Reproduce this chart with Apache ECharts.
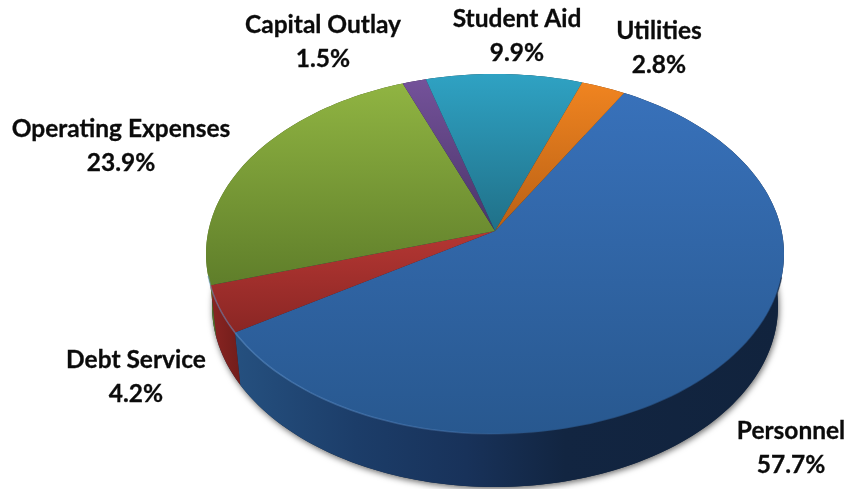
<!DOCTYPE html>
<html>
<head>
<meta charset="utf-8">
<style>html,body{margin:0;padding:0;background:#fff}#chart{width:847px;height:489px}</style>
<script src="https://cdn.jsdelivr.net/npm/echarts@6/dist/echarts.min.js"></script>
</head>
<body>
<div id="chart"></div>
<script>
// Budget shares, clockwise from the Personnel slice
const categories = ['Personnel', 'Debt Service', 'Operating Expenses', 'Capital Outlay', 'Student Aid', 'Utilities'];
const shares = [57.7, 4.2, 23.9, 1.5, 9.9, 2.8];

// Slice colours: top face [far, near], side wall [left, right]
const faceTop = ['#3871ba', '#b53733', '#90b442', '#74529a', '#2fa2c3', '#f08420'];
const faceLow = ['#28588f', '#8a2624', '#5f7e2a', '#4a3468', '#207088', '#b86015'];
const wallLeft = ['#254d80', '#8e2623', '#5c7a28', '#432f5e', '#1d6378', '#a85a16'];
const wallRight = ['#11233f', '#6a1b19', '#3d511a', '#2a1d3c', '#123f4d', '#6e3a0e'];

// Label centres, in slice order
const labelX = [791, 136, 121, 323, 517, 659];
const labelY = [448, 377, 146.5, 42.5, 36, 48];

// Tilted disc: perspective ellipses for top and bottom rims
const topRim = { cx: 495, cy: 254, rx: 289, ry: 180 };
const bottomRim = { cx: 495, cy: 306, rx: 283, ry: 181 };
const persp = -0.128;
const startDeg = 30;

// Projects a disc angle (degrees clockwise from the far point) onto a rim
function project(rim, deg, radius) {
  const a = deg * Math.PI / 180;
  const u = radius * Math.sin(a), v = -radius * Math.cos(a);
  const w = 1 + persp * v;
  return [
    rim.cx + rim.rx * Math.sqrt(1 - persp * persp) * u / w,
    rim.cy + rim.ry * (v + persp) / w
  ];
}

function sliceRange(i) {
  let from = startDeg;
  for (let k = 0; k < i; k++) from += shares[k] * 3.6;
  return [from, from + shares[i] * 3.6];
}

function arc(rim, from, to) {
  const pts = [];
  const n = Math.max(4, Math.ceil((to - from) / 1.5));
  for (let k = 0; k <= n; k++) pts.push(project(rim, from + (to - from) * k / n, 1));
  return pts;
}

function linear(x, y, x2, y2, stops) {
  return { type: 'linear', x, y, x2, y2, global: true,
    colorStops: stops.map(s => ({ offset: s[0], color: s[1] })) };
}

function renderWall(params, api) {
  const i = params.dataIndex;
  const [from, to] = sliceRange(i);
  const upper = arc(topRim, from, to);
  const lower = arc(bottomRim, from, to).reverse();
  const fill = i === 0
    ? linear(235, 0, 785, 0, [[0, '#25507f'], [0.22, '#1c3d69'], [0.42, '#18325a'], [0.6, '#122541'], [1, '#11233d']])
    : linear(205, 0, 250, 0, [[0, wallLeft[i]], [1, wallRight[i]]]);
  const children = [];
  if (i === 0) {
    // soft shadow under the disc
    children.push({
      type: 'polygon', shape: { points: arc(bottomRim, 0, 360) },
      style: { fill: '#1a2a40', shadowColor: 'rgba(0,0,0,0.6)', shadowBlur: 6, shadowOffsetX: 1, shadowOffsetY: 2 }
    });
  }
  children.push({ type: 'polygon', shape: { points: upper.concat(lower) }, style: { fill } });
  return { type: 'group', children };
}

function renderFace(params, api) {
  const i = params.dataIndex;
  const [from, to] = sliceRange(i);
  const rim = arc(topRim, from, to);
  const apex = project(topRim, 0, 0);
  const outline = [apex].concat(rim);
  const ys = outline.map(p => p[1]);
  const children = [{
    type: 'polygon',
    shape: { points: outline },
    // each slice shades from its own far edge to its own near edge
    style: { fill: linear(0, Math.min(...ys), 0, Math.max(...ys), [[0, faceTop[i]], [1, faceLow[i]]]) }
  }];
  // bevel along the near rim: light on the left, dark on the right
  const near = rim.filter(p => p[1] > topRim.cy + 20);
  if (near.length > 1) {
    children.push({
      type: 'polyline',
      shape: { points: near },
      style: {
        fill: null, lineWidth: 1.5,
        stroke: linear(235, 0, 785, 0, [
          [0, 'rgba(110,165,225,0.45)'], [0.4, 'rgba(100,150,215,0.3)'],
          [0.58, 'rgba(20,40,70,0.2)'], [1, 'rgba(15,30,55,0.55)']
        ])
      }
    });
  }
  return { type: 'group', children };
}

function renderLabel(params, api) {
  const i = params.dataIndex;
  return {
    type: 'text',
    style: {
      x: labelX[i], y: labelY[i],
      text: categories[i] + '\n' + api.value(1).toFixed(1) + '%',
      align: 'center', verticalAlign: 'middle',
      font: 'bold 24.5px Lato, sans-serif', lineHeight: 34, fill: '#0b0b0b',
      stroke: '#0b0b0b', lineWidth: 0.3
    }
  };
}

const rows = shares.map((s, i) => [i, s]);
const chart = echarts.init(document.getElementById('chart'), null, { renderer: 'canvas' });
chart.setOption({
  animation: false,
  backgroundColor: '#ffffff',
  series: [
    { type: 'custom', coordinateSystem: 'none', z: 1, data: rows, renderItem: renderWall, silent: true },
    { type: 'custom', coordinateSystem: 'none', z: 2, data: rows, renderItem: renderFace, silent: true },
    { type: 'custom', coordinateSystem: 'none', z: 3, data: rows, renderItem: renderLabel, silent: true }
  ]
});
</script>
</body>
</html>
